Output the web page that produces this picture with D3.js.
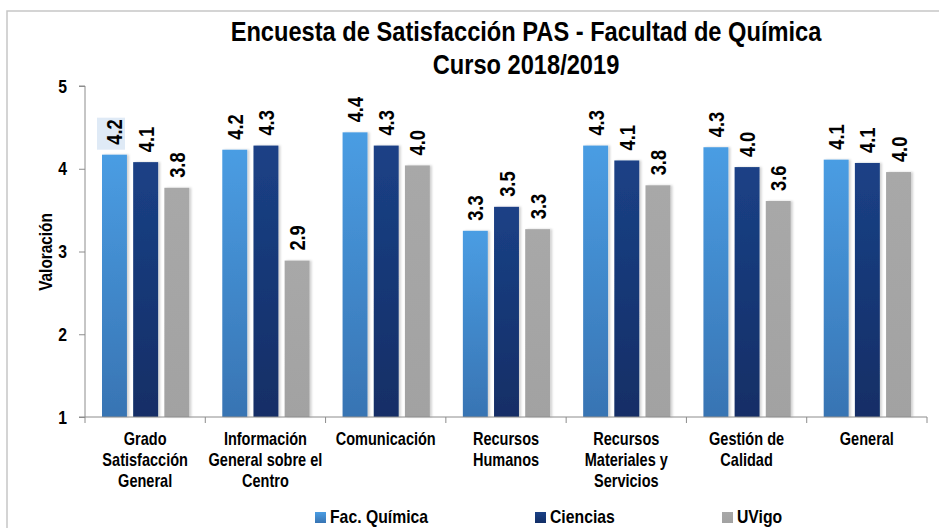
<!DOCTYPE html>
<html>
<head>
<meta charset="utf-8">
<script src="https://cdn.jsdelivr.net/npm/d3@7"></script>
<style>
  body { margin: 0; background: #fff; }
  svg text { font-family: "Liberation Sans", Arial, sans-serif; font-weight: bold; fill: #000; }
</style>
</head>
<body>
<svg id="chart" width="939" height="528"></svg>
<script>
// data
const categories = [
  ["Grado", "Satisfacción", "General"],
  ["Información", "General sobre el", "Centro"],
  ["Comunicación"],
  ["Recursos", "Humanos"],
  ["Recursos", "Materiales y", "Servicios"],
  ["Gestión de", "Calidad"],
  ["General"]
];
const seriesNames = ["Fac. Química", "Ciencias", "UVigo"];
const facQuimica = [4.17, 4.23, 4.44, 3.25, 4.28, 4.26, 4.11];
const ciencias   = [4.08, 4.28, 4.28, 3.54, 4.10, 4.02, 4.07];
const uvigo      = [3.77, 2.89, 4.04, 3.27, 3.80, 3.61, 3.96];
const yTicks = [1, 2, 3, 4, 5];

const series = [facQuimica, ciencias, uvigo];
const colors = [["#4a9de3", "#3874b3"], ["#1b4186", "#122e66"], ["#a8a8a8", "#a2a2a2"]];

// no Arial Narrow available, so squeeze Liberation Sans horizontally
const narrow = "scale(0.83,1)";

const svg = d3.select("#chart");
const defs = svg.append("defs");

colors.forEach((c, i) => {
  const g = defs.append("linearGradient").attr("id", "grad" + i)
    .attr("x1", 0).attr("y1", 0).attr("x2", 0).attr("y2", 1);
  g.append("stop").attr("offset", "0%").attr("stop-color", c[0]);
  g.append("stop").attr("offset", "100%").attr("stop-color", c[1]);
});
const shadow = defs.append("filter").attr("id", "shadow").attr("x", "-20%").attr("width", "150%");
shadow.append("feDropShadow").attr("dx", 2).attr("dy", 0).attr("stdDeviation", 1)
  .attr("flood-color", "#000").attr("flood-opacity", 0.18);

// outer frame (cropped at right and bottom)
svg.append("rect").attr("x", 7).attr("y", 11).attr("width", 960).attr("height", 560)
  .attr("fill", "none").attr("stroke", "#c6c6c6").attr("stroke-width", 1.5);

// title
svg.append("text").attr("transform", `translate(526,41) ${narrow}`).attr("text-anchor", "middle")
  .style("font-size", "28.5px").text("Encuesta de Satisfacción PAS - Facultad de Química");
svg.append("text").attr("transform", `translate(526,74) ${narrow}`).attr("text-anchor", "middle")
  .style("font-size", "28.5px").text("Curso 2018/2019");

const plotLeft = 85, plotRight = 927, plotTop = 86, plotBottom = 417;

const x0 = d3.scaleBand().domain(d3.range(categories.length)).range([plotLeft, plotRight]);
const x1 = d3.scaleBand().domain(d3.range(series.length)).range([17, x0.bandwidth() - 16]).paddingInner(0.2);
const y = d3.scaleLinear().domain([1, 5]).range([plotBottom, plotTop]);

// y axis
const yAxis = svg.append("g").attr("transform", `translate(${plotLeft},0)`)
  .call(d3.axisLeft(y).tickValues(yTicks).tickSize(6).tickFormat(d3.format("d")));
yAxis.selectAll("path, line").attr("stroke", "#8c8c8c");
yAxis.select(".domain").attr("d", `M-6,${plotTop}H0V${plotBottom}H-6`);
yAxis.selectAll("text").attr("font-family", null).attr("x", 0)
  .attr("transform", `translate(-18,0) ${narrow}`).style("font-size", "19px");

svg.append("text").attr("transform", `translate(52,252) rotate(-90) ${narrow}`)
  .attr("text-anchor", "middle").style("font-size", "18.5px").text("Valoración");

// bars
const groups = svg.append("g").selectAll("g").data(categories).join("g")
  .attr("transform", (d, i) => `translate(${x0(i)},0)`);

groups.each(function(cat, ci) {
  const g = d3.select(this);
  series.forEach((s, si) => {
    const v = s[ci];
    g.append("rect")
      .attr("x", x1(si)).attr("width", x1.bandwidth())
      .attr("y", y(v)).attr("height", y(1) - y(v))
      .attr("fill", `url(#grad${si})`).attr("filter", "url(#shadow)");
    const lx = x1(si) + x1.bandwidth() / 2 + 8;
    const ly = y(v) - 10;
    if (ci === 0 && si === 0) {
      g.append("rect").attr("x", x1(si) - 5).attr("y", ly - 27).attr("width", 28).attr("height", 32)
        .attr("fill", "#dfeaf6");
    }
    g.append("text")
      .attr("transform", `translate(${lx},${ly}) rotate(-90) ${narrow}`)
      .style("font-size", "22px").text(v.toFixed(1));
  });
});

// x axis
const xAxisG = svg.append("g").attr("transform", `translate(0,${plotBottom})`);
xAxisG.append("line").attr("x1", plotLeft).attr("x2", plotRight).attr("stroke", "#8c8c8c");
xAxisG.selectAll("line.tick").data(d3.range(categories.length + 1)).join("line")
  .attr("class", "tick")
  .attr("x1", i => plotLeft + i * x0.step()).attr("x2", i => plotLeft + i * x0.step())
  .attr("y1", 0).attr("y2", 6).attr("stroke", "#8c8c8c");

xAxisG.selectAll("text.cat").data(categories).join("text")
  .attr("class", "cat")
  .attr("text-anchor", "middle")
  .attr("transform", (d, i) => `translate(${x0(i) + x0.bandwidth() / 2},28) ${narrow}`)
  .style("font-size", "17.5px")
  .each(function(lines) {
    d3.select(this).selectAll("tspan").data(lines).join("tspan")
      .attr("x", 0).attr("y", (d, k) => k * 21).text(d => d);
  });

// legend
const legendX = [315, 535, 722];
const legend = svg.append("g").selectAll("g").data(seriesNames).join("g")
  .attr("transform", (d, i) => `translate(${legendX[i]},512)`);
legend.append("rect").attr("width", 11).attr("height", 11).attr("fill", (d, i) => `url(#grad${i})`);
legend.append("text").attr("transform", `translate(15,11) ${narrow}`).style("font-size", "19px").text(d => d);
</script>
</body>
</html>
